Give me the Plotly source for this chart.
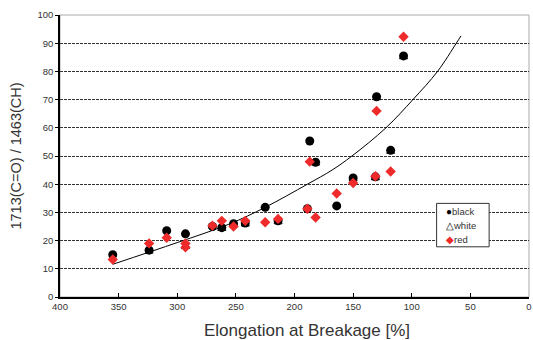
import plotly.graph_objects as go

# ---- data ----
black_x = [355, 324, 309, 293, 270, 262, 252, 242, 225, 214, 189, 187, 182, 164, 150, 131, 130, 118, 107]
black_y = [15.0, 16.6, 23.5, 22.4, 25.0, 24.6, 26.0, 26.2, 31.8, 27.0, 31.3, 55.3, 47.8, 32.3, 42.2, 42.6, 71.0, 52.0, 85.5]

white_x = [324, 293, 262, 252, 242, 214, 182, 150, 131, 118, 130, 107]
white_y = [16.2, 17.8, 24.2, 25.6, 25.8, 26.6, 47.4, 41.8, 42.2, 51.6, 70.6, 85.1]

red_x = [355, 324, 309, 293, 293, 270, 262, 252, 242, 225, 214, 189, 187, 182, 164, 150, 131, 130, 118, 107]
red_y = [13.3, 19.0, 21.0, 19.0, 17.6, 25.3, 27.0, 25.0, 27.0, 26.5, 27.7, 31.3, 48.0, 28.2, 36.7, 40.4, 42.8, 66.0, 44.5, 92.3]

# trend curve, points
trend_x = [355, 300, 256, 225, 189, 168, 151, 122, 99, 78, 62, 58]
trend_y = [11.6, 19.3, 25.8, 31.8, 40.0, 45.0, 50.0, 60.0, 70.0, 80.0, 90.0, 92.6]

x_ticks = [400, 350, 300, 250, 200, 150, 100, 50, 0]
y_ticks = [0, 10, 20, 30, 40, 50, 60, 70, 80, 90, 100]

series_names = ["black", "white", "red"]
series_symbols = ["●", "△", "◆"]
series_colors = ["black", "black", "#ee2a2a"]

x_title = "Elongation at Breakage [%]"
y_title = "1713(C=O) / 1463(CH)"

FONT = "Liberation Sans, Arial, sans-serif"

fig = go.Figure()

fig.add_trace(go.Scatter(
    x=trend_x, y=trend_y, mode="lines", line=dict(color="black", width=1, shape="spline"),
    showlegend=False, hoverinfo="skip"))

fig.add_trace(go.Scatter(
    x=white_x, y=white_y, mode="markers", name="white", showlegend=False,
    marker=dict(symbol="triangle-up", size=7, color="white", line=dict(color="black", width=1))))

fig.add_trace(go.Scatter(
    x=black_x, y=black_y, mode="markers", name="black", showlegend=False,
    marker=dict(symbol="circle", size=9, color="black")))

fig.add_trace(go.Scatter(
    x=red_x, y=red_y, mode="markers", name="red", showlegend=False,
    marker=dict(symbol="diamond", size=8, color="#ee2a2a")))

# hand-drawn legend box (paper coordinates)
lx0, lx1, ly_top, ly_bot = 0.803, 0.915, 0.332, 0.178
annotations = []
for i, (nm, sym, col) in enumerate(zip(series_names, series_symbols, series_colors)):
    annotations.append(dict(
        xref="paper", yref="paper", x=lx0 + 0.016, y=ly_top - 0.029 - i * 0.0497,
        xanchor="left", yanchor="middle", showarrow=False,
        text=f'<span style="color:{col};font-size:10px">{sym}</span>{nm}',
        font=dict(size=9.5, family=FONT, color="#333")))

# x-axis title placed as in the reference (slightly right of the plot centre)
annotations.append(dict(
    xref="paper", yref="paper", x=0.526, y=-0.118, xanchor="center", yanchor="middle",
    showarrow=False, text=x_title, font=dict(size=17, family=FONT, color="#333")))

fig.update_layout(
    width=533, height=340,
    margin=dict(l=60, r=4, t=15, b=43),
    paper_bgcolor="white", plot_bgcolor="white",
    font=dict(family=FONT, color="#333"),
    showlegend=False,
    annotations=annotations,
    shapes=[
        dict(type="rect", xref="paper", yref="paper", x0=0, x1=1, y0=0, y1=1,
             line=dict(color="#aaa", width=1), layer="below"),
        dict(type="rect", xref="paper", yref="paper", x0=lx0, x1=lx1, y0=ly_bot, y1=ly_top,
             line=dict(color="#333", width=1), fillcolor="white", layer="above"),
    ],
)

fig.update_xaxes(
    range=[400, 0], tickvals=x_ticks, ticks="inside", ticklen=4, tickcolor="black",
    showgrid=False, zeroline=False, showline=True, linecolor="black", linewidth=1.5,
    automargin=False, ticklabeloverflow="allow",
    tickfont=dict(size=9.5, color="#333"))

fig.update_yaxes(
    range=[0, 100], tickvals=y_ticks, ticks="outside", ticklen=3, tickcolor="black",
    showgrid=True, gridcolor="#333", griddash="3px,1px", gridwidth=1,
    zeroline=False, showline=True, linecolor="black", linewidth=1.5,
    automargin=False,
    tickfont=dict(size=9.5, color="#333"),
    title=dict(text=y_title, font=dict(size=14.5, color="#333"), standoff=12))

fig.write_html("out.html", post_script="document.body.style.margin='0';",
               config={"displayModeBar": False})
